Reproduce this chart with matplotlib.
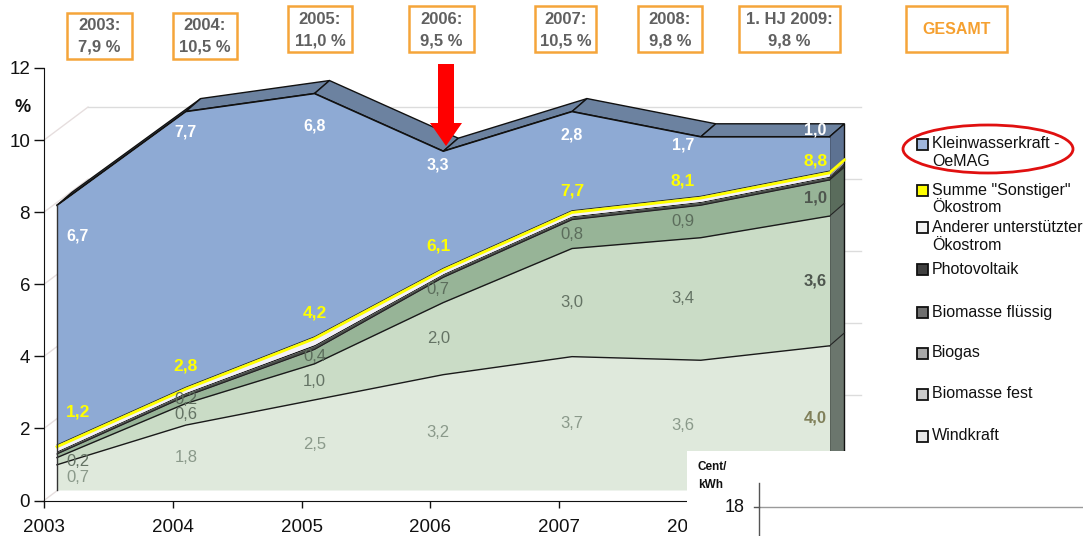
import numpy as np
import matplotlib
matplotlib.use("Agg")
import matplotlib.pyplot as plt
from matplotlib.patches import Polygon, Rectangle, Ellipse

plt.rcParams['font.family'] = ['Liberation Sans', 'DejaVu Sans']

# ---------------- data ----------------
years = ["2003", "2004", "2005", "2006", "2007", "2008", "2009"]
period_titles = ["2003:", "2004:", "2005:", "2006:", "2007:", "2008:", "1. HJ 2009:"]
total_share = [7.9, 10.5, 11.0, 9.5, 10.5, 9.8, 9.8]

windkraft = [0.7, 1.8, 2.5, 3.2, 3.7, 3.6, 4.0]
biomasse_fest = [0.2, 0.6, 1.0, 2.0, 3.0, 3.4, 3.6]
biogas = [0.1, 0.2, 0.4, 0.7, 0.8, 0.9, 1.0]
biomasse_fluessig = [0.06, 0.08, 0.10, 0.08, 0.08, 0.08, 0.08]
photovoltaik = [0.03, 0.03, 0.04, 0.03, 0.03, 0.03, 0.03]
anderer = [0.11, 0.09, 0.16, 0.09, 0.09, 0.09, 0.09]
summe_sonstiger = [1.2, 2.8, 4.2, 6.1, 7.7, 8.1, 8.8]
kleinwasserkraft = [6.7, 7.7, 6.8, 3.3, 2.8, 1.7, 1.0]

legend_labels = [["Kleinwasserkraft -", "OeMAG"],
                 ['Summe "Sonstiger"', "Ökostrom"],
                 ["Anderer unterstützter", "Ökostrom"],
                 ["Photovoltaik"],
                 ["Biomasse flüssig"],
                 ["Biogas"],
                 ["Biomasse fest"],
                 ["Windkraft"]]


def de(v):
    return f"{v:.1f}".replace(".", ",")


# ---------------- geometry ----------------
W, H = 1083, 536
AX_L, AX_R = 44, 880          # pixel extent of the plot area
Y0_PX, Y12_PX = 500.5, 68
PX_YEAR = 128.75
PX_UNIT = (Y0_PX - Y12_PX) / 12

FX, FY = 13 / PX_YEAR, 10.5 / PX_UNIT     # front face offset from the axes
DX, DY = 15 / PX_YEAR, 13 / PX_UNIT       # depth of the area body
WX, WY = 44 / PX_YEAR, 33 / PX_UNIT       # depth of the back wall

fig = plt.figure(figsize=(W / 100, H / 100), dpi=100)
fig.patch.set_facecolor("white")
ax = fig.add_axes([AX_L / W, (H - Y0_PX) / H, (AX_R - AX_L) / W, (Y0_PX - Y12_PX) / H])
ax.set_xlim(0, (AX_R - AX_L) / PX_YEAR)
ax.set_ylim(0, 12)
ax.patch.set_visible(False)

n = len(years)
idx = np.arange(n)
xf = idx + FX

# back wall gridlines and side wall diagonals
for v in [0, 2, 4, 6, 8, 10]:
    ax.plot([0, WX], [v, v + WY], color="#e6dede", lw=1, zorder=1, clip_on=False)
    if v > 0:
        ax.plot([WX, n - 1 + WX], [v + WY, v + WY], color="#dcdcdc", lw=1, zorder=1, clip_on=False)

# stacked layers
layers = [
    (windkraft, "#dfe9dc", "#6b766d"),
    (biomasse_fest, "#cadcc6", "#66736a"),
    (biogas, "#97b497", "#5a6c5c"),
    (biomasse_fluessig, "#4a4f4a", "#2e302e"),
    (photovoltaik, "#1a1a1a", "#111111"),
    (anderer, "#f2f0f7", "#9a9aa8"),
    (kleinwasserkraft, "#8eaad4", "#5d7292"),
]
bounds = [np.zeros(n)]
for vals, _, _ in layers:
    bounds.append(bounds[-1] + np.array(vals))
top = bounds[-1]
sonst_line = np.array(summe_sonstiger)

# roof of the area body
for i in range(n - 1):
    quad = [(xf[i], FY + top[i]), (xf[i + 1], FY + top[i + 1]),
            (xf[i + 1] + DX, FY + top[i + 1] + DY), (xf[i] + DX, FY + top[i] + DY)]
    ax.add_patch(Polygon(quad, closed=True, facecolor="#6c82a0", edgecolor="#111111",
                         lw=1, zorder=2, clip_on=False))

# right side face
xr = xf[-1]
for k, (vals, _, side) in enumerate(layers):
    lo, up = bounds[k][-1], bounds[k + 1][-1]
    quad = [(xr, FY + lo), (xr, FY + up), (xr + DX, FY + up + DY), (xr + DX, FY + lo + DY)]
    ax.add_patch(Polygon(quad, closed=True, facecolor=side, edgecolor="none",
                         lw=0, zorder=2, clip_on=False))
side_outline = [(xr, FY), (xr, FY + top[-1]), (xr + DX, FY + top[-1] + DY), (xr + DX, FY + DY)]
ax.add_patch(Polygon(side_outline, closed=True, facecolor="none", edgecolor="#111111",
                     lw=1, zorder=2.5, clip_on=False))
for k in [1, 2, 3]:
    b = bounds[k][-1]
    ax.plot([xr, xr + DX], [FY + b, FY + b + DY], color="#222222", lw=0.8, zorder=2.6, clip_on=False)
ax.plot([xr, xr + DX], [FY + sonst_line[-1], FY + sonst_line[-1] + DY],
        color="#ffff00", lw=2, zorder=2.6, clip_on=False)

# front face
for k, (vals, face, _) in enumerate(layers):
    ax.fill_between(xf, FY + bounds[k], FY + bounds[k + 1], color=face, lw=0, zorder=3)
for k, (c, w) in enumerate([("#1a1a1a", 1.0), ("#1a1a1a", 1.0), ("#222222", 0.8)]):
    ax.plot(xf, FY + bounds[k + 1], color=c, lw=w, zorder=4)
ax.plot(xf, FY + sonst_line + 0.05, color="#222222", lw=0.7, zorder=4)
ax.plot(xf, FY + sonst_line, color="#ffff00", lw=2.0, zorder=4.1)
ax.plot(xf, FY + top, color="#111111", lw=1.2, zorder=4.2)
ax.plot([xf[0], xf[0]], [FY, FY + top[0]], color="#333333", lw=1, zorder=4.2)

# data labels
nudge_px = [21, 0, 0, -5, 0, -18, -14]
lx = xf + np.array(nudge_px) / PX_YEAR
series_labels = [
    (windkraft, 0, ["#8a998a"] * 6 + ["#80805a"]),
    (biomasse_fest, 1, ["#647364"] * 6 + ["#4e564e"]),
    (biogas, 2, ["#5c6d5c"] * 6 + ["#4e564e"]),
]
for vals, k, cols in series_labels:
    for i in range(n):
        if vals[i] < 0.15:
            continue
        mid = (bounds[k][i] + bounds[k + 1][i]) / 2
        ax.text(lx[i], FY + mid, de(vals[i]), ha="center", va="center",
                fontsize=12, color=cols[i], fontweight="bold" if i == n - 1 else "normal", zorder=6)

yellow_off = [0.97, 0.64, 0.70, 0.68, 0.60, 0.48, 0.34]
for i in range(n):
    ax.text(lx[i], FY + sonst_line[i] + yellow_off[i], de(summe_sonstiger[i]), ha="center",
            va="center", fontsize=12.5, fontweight="bold", color="#ffff00", zorder=6)

blue_off = [-0.85, -0.58, -0.90, -0.37, -0.64, -0.22, 0.20]
for i in range(n):
    ax.text(lx[i], FY + top[i] + blue_off[i], de(kleinwasserkraft[i]), ha="center",
            va="center", fontsize=11.5, fontweight="bold", color="white", zorder=6, clip_on=False)

# axes styling
for s in ["top", "right"]:
    ax.spines[s].set_visible(False)
ax.spines["left"].set_color("#111111")
ax.spines["bottom"].set_color("#111111")
ax.set_yticks([0, 2, 4, 6, 8, 10, 12])
ax.set_yticklabels(["0", "2", "4", "6", "8", "10", "12"])
ax.set_xticks(idx)
ax.set_xticklabels(years)
ax.tick_params(axis="y", direction="out", length=7, width=1, pad=3, labelsize=13.5, colors="#111111")
ax.tick_params(axis="x", direction="out", length=5, width=1, pad=8, labelsize=13.5, colors="#111111")

# ---------------- overlay (pixel coordinates) ----------------
ov = fig.add_axes([0, 0, 1, 1])
ov.set_xlim(0, W)
ov.set_ylim(H, 0)
ov.axis("off")
ov.patch.set_alpha(0)
ov.set_zorder(5)

ov.text(23, 108, "%", ha="center", va="center", fontsize=13, fontweight="bold", color="#111111")

orange = "#f5a53a"
boxes = [(67, 13, 132, 59), (173, 13, 237, 59), (288, 6, 352, 52), (409, 6, 474, 52),
         (535, 6, 596, 52), (638, 6, 702, 52), (739, 6, 840, 52)]
for (x0, y0, x1, y1), title, val in zip(boxes, period_titles, total_share):
    ov.add_patch(Rectangle((x0, y0), x1 - x0, y1 - y0, facecolor="white",
                           edgecolor=orange, lw=1.8))
    cx, cy = (x0 + x1) / 2, (y0 + y1) / 2
    ov.text(cx, cy - 10, title, ha="center", va="center", fontsize=12,
            fontweight="bold", color="#606060")
    ov.text(cx, cy + 11.5, f"{de(val)} %", ha="center", va="center", fontsize=12,
            fontweight="bold", color="#606060")
ov.add_patch(Rectangle((906, 6), 101, 46, facecolor="white", edgecolor=orange, lw=1.8))
ov.text(956.5, 29, "GESAMT", ha="center", va="center", fontsize=11.5,
        fontweight="bold", color="#f5a030")

# red arrow pointing at 2006
arrow = [(438, 64), (454, 64), (454, 123), (462, 123), (446, 146), (430, 123), (438, 123)]
ov.add_patch(Polygon(arrow, closed=True, facecolor="#ff0000", edgecolor="none"))

# legend
legend_colors = ["#9fb6dc", "#ffff00", "#f2f2f2", "#404040", "#707070", "#a8a8a8", "#cacaca", "#e8e8e8"]
legend_y = [144, 190, 227, 269, 312, 353, 394, 436]
for col, lab, y in zip(legend_colors, legend_labels, legend_y):
    ov.add_patch(Rectangle((917, y - 5.5), 11, 11, facecolor=col, edgecolor="#111111", lw=1.3))
    for j, line in enumerate(lab):
        ov.text(932, y + 18 * j, line, ha="left", va="center", fontsize=11.5, color="#111111")
ov.add_patch(Ellipse((988, 149), 170, 48, facecolor="none", edgecolor="#e01010", lw=2))

# price panel at the bottom right
ov.add_patch(Rectangle((687, 451), W - 687, H - 451, facecolor="white", edgecolor="none"))
ov.text(697, 467, "Cent/", ha="left", va="center", fontsize=8.5, fontweight="bold", color="#111111")
ov.text(698, 485, "kWh", ha="left", va="center", fontsize=8.5, fontweight="bold", color="#111111")
ov.plot([759, W], [507, 507], color="#9a9a9a", lw=1)
ov.plot([754, 759], [507, 507], color="#555555", lw=1)
ov.plot([759, 759], [483, H], color="#555555", lw=1)
ov.text(745, 507, "18", ha="right", va="center", fontsize=13, color="#111111")

fig.savefig("out.png", dpi=100)
